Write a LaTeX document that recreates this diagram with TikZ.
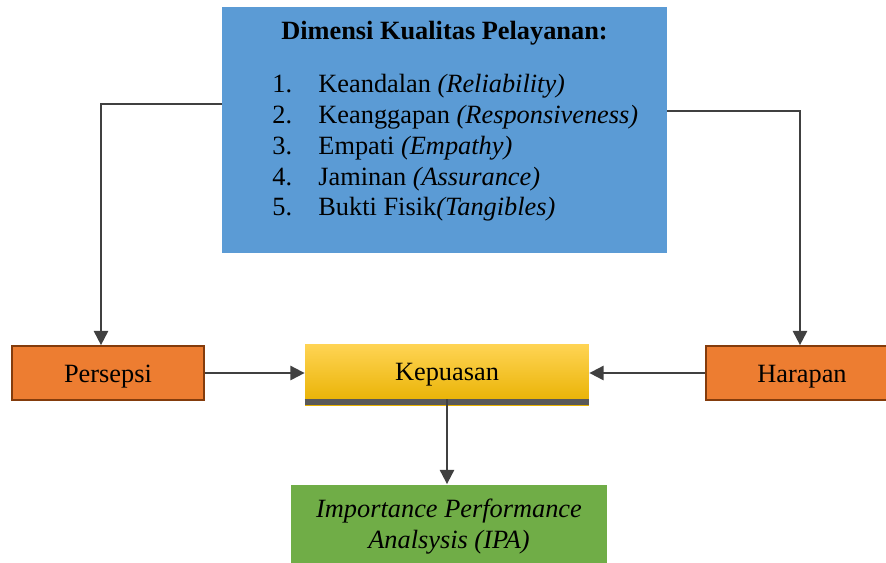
\documentclass[tikz,border=0pt]{standalone}
\usepackage{fontspec}
\setmainfont{Liberation Serif}
\usetikzlibrary{arrows.meta}

\definecolor{blueBox}{HTML}{5B9BD5}
\definecolor{orangeBox}{HTML}{ED7D31}
\definecolor{orangeLine}{HTML}{843C0C}
\definecolor{greenBox}{HTML}{70AD47}
\definecolor{arrowGray}{HTML}{404040}
\definecolor{kepTop}{HTML}{FFD454}
\definecolor{kepMid}{HTML}{FFC505}
\definecolor{kepBot}{HTML}{E8B100}

\begin{document}
\begin{tikzpicture}[x=0.016cm, y=-0.016cm, font=\fontsize{12}{14.1}\selectfont,
  orangebox/.style={rectangle, fill=orangeBox, draw=orangeLine, line width=0.8pt,
    minimum width=3.072cm, minimum height=0.864cm, inner sep=0pt, text height=10.5pt, text depth=2.1pt},
  arr/.style={-{Triangle[length=6.5pt,width=6.5pt]}, draw=arrowGray, line width=0.9pt}]
\useasboundingbox (0,0) rectangle (886,562);

% kotak dimensi
\node[rectangle, fill=blueBox, minimum width=7.12cm, minimum height=3.936cm, inner sep=0pt] (dim) at (444.5,130) {};
\node[font=\fontsize{12}{14.1}\selectfont\bfseries] (title) at (444.5,33) {Dimensi Kualitas Pelayanan:};
\node[anchor=north west, inner sep=0pt] (list) at (272,70) {%
  \begin{tabular}{@{}p{0.736cm}@{}l@{}}
  1. & Keandalan \textit{(Reliability)}\\
  2. & Keanggapan \textit{(Responsiveness)}\\
  3. & Empati \textit{(Empathy)}\\
  4. & Jaminan \textit{(Assurance)}\\
  5. & Bukti Fisik\textit{(Tangibles)}
  \end{tabular}};

\node[orangebox] (pers) at (108,373) {Persepsi};
\node[orangebox] (har) at (802,373) {Harapan};
\node[rectangle, top color=kepTop, middle color=kepMid, bottom color=kepBot,
  minimum width=4.544cm, minimum height=0.976cm, inner sep=0pt] (kep) at (447,374.5) {\raisebox{2pt}{Kepuasan}};
\draw[line width=3pt, black!65] ([yshift=1.5pt]kep.south west) -- ([yshift=1.5pt]kep.south east);
\node[rectangle, fill=greenBox, minimum width=5.056cm, minimum height=1.36cm, inner sep=0pt, align=center,
  font=\fontsize{12}{14.1}\selectfont\itshape] (ipa) at (449,527) {Importance Performance\\ Analsysis (IPA)};

\draw[arr] ([yshift=0.416cm]dim.west) -| ([xshift=-0.112cm]pers.north);
\draw[arr] ([yshift=0.304cm]dim.east) -| ([xshift=-0.032cm]har.north);
\draw[arr] (pers.east) -- (pers.east -| kep.west);
\draw[arr] (har.west) -- (har.west -| kep.east);
\draw[arr] ([yshift=0.1cm]kep.south) -- (kep.south |- ipa.north);
\end{tikzpicture}
\end{document}
